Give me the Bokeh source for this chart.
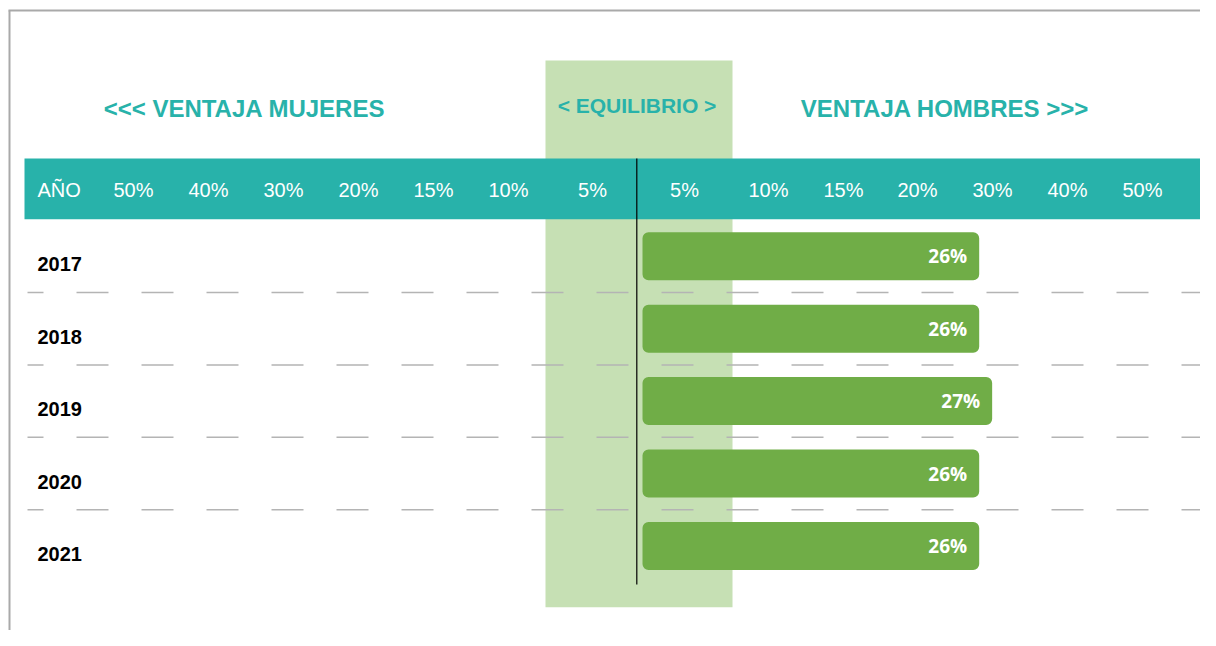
from bokeh.plotting import figure
from bokeh.models import Range1d, ColumnDataSource
from bokeh.core.properties import value
from bokeh.embed import file_html
from bokeh.resources import INLINE

# ---------------- data ----------------
years = ["2017", "2018", "2019", "2020", "2021"]
brecha_hombres = [26, 26, 27, 26, 26]          # % ventaja hombres
header_first = "AÑO"
ticks_mujeres = ["50%", "40%", "30%", "20%", "15%", "10%", "5%"]
ticks_hombres = ["5%", "10%", "15%", "20%", "30%", "40%", "50%"]
title_mujeres = "<<< VENTAJA MUJERES"
title_equilibrio = "< EQUILIBRIO >"
title_hombres = "VENTAJA HOMBRES >>>"

# ---------------- layout (image pixels) ----------------
W, H = 1200, 630
PAGE_OFF = 0
X0_PAGE = 642.0        # where 0% sits
PX_PER_PCT = 12.95
ROW0_PAGE = 255.8
ROW_STEP = 72.4

def X(px):
    return (px - X0_PAGE) / PX_PER_PCT

def Y(py):
    return (py - ROW0_PAGE) / ROW_STEP

tick_pos_mujeres = [133, 208, 283, 358, 433, 508, 592]
tick_pos_hombres = [684, 768, 843, 917, 992, 1067, 1142]

TEAL = "#28b2aa"
GREEN = "#70ad47"
LIGHT_GREEN = "#c6e0b4"
ARIAL = value("Liberation Sans")

p = figure(width=W, height=H,
           x_range=Range1d(X(PAGE_OFF), X(PAGE_OFF + W)),
           y_range=Range1d(Y(PAGE_OFF + H), Y(PAGE_OFF)),
           x_axis_type=None, y_axis_type=None,
           output_backend="svg", toolbar_location=None,
           min_border=0)
p.grid.visible = False
p.outline_line_color = None
p.background_fill_color = "white"
p.border_fill_color = "white"

# frame border (top & left)
p.segment(x0=[X(8), X(9)], y0=[Y(10), Y(10)], x1=[X(1216), X(9)], y1=[Y(10), Y(646)],
          line_color="#a9a9a9", line_width=2)

# equilibrium band
p.quad(left=X(545), right=X(732), top=Y(60), bottom=Y(606.7),
       fill_color=LIGHT_GREEN, line_color=None)

# header band
p.quad(left=X(24), right=X(1200), top=Y(158), bottom=Y(218.7),
       fill_color=TEAL, line_color=None)

# dashed separators
n = len(years)
sep_y = [i + 0.5 for i in range(n - 1)]
p.segment(x0=[X(27)] * len(sep_y), x1=[X(1200)] * len(sep_y), y0=sep_y, y1=sep_y,
          line_color="#b4b4b4", line_width=1.5, line_dash="32 33", line_dash_offset=16)

# center line
p.segment(x0=[X(636.3)], x1=[X(636.3)], y0=[Y(158)], y1=[Y(584)],
          line_color="black", line_width=1.2)

# bars
rows = list(range(n))
src = ColumnDataSource(dict(y=rows, v=brecha_hombres,
                            lab=[f"{v}%" for v in brecha_hombres]))
p.hbar(y="y", left=0, right="v", height=48 / ROW_STEP, source=src,
       fill_color=GREEN, line_color=None, border_radius=6)
p.text(x="v", y="y", text="lab", source=src, x_offset=-12,
       text_align="right", text_baseline="middle", text_color="white",
       text_font=value("Open Sans"), text_font_style="bold",
       text_font_size=value("19px"))

# year labels
p.text(x=[X(37)] * n, y=[r + 8 / ROW_STEP for r in rows], text=years,
       text_align="left", text_baseline="middle", text_color="black",
       text_font=ARIAL, text_font_style="bold", text_font_size=value("20px"))

# header labels
p.text(x=[X(37)], y=[Y(189)], text=[header_first],
       text_align="left", text_baseline="middle", text_color="white",
       text_font=ARIAL, text_font_size=value("20px"))
p.text(x=[X(v) for v in tick_pos_mujeres + tick_pos_hombres], y=[Y(189)] * 14,
       text=ticks_mujeres + ticks_hombres,
       text_align="center", text_baseline="middle", text_color="white",
       text_font=ARIAL, text_font_size=value("20px"))

# titles
p.text(x=[X(244), X(944.5)], y=[Y(108), Y(107.5)], text=[title_mujeres, title_hombres],
       text_align="center", text_baseline="middle", text_color=TEAL,
       text_font=ARIAL, text_font_style="bold", text_font_size=value("24px"))
p.text(x=[X(636.5)], y=[Y(104.7)], text=[title_equilibrio],
       text_align="center", text_baseline="middle", text_color=TEAL,
       text_font=ARIAL, text_font_style="bold", text_font_size=value("21px"))

open("out.html", "w").write(file_html(p, INLINE))
